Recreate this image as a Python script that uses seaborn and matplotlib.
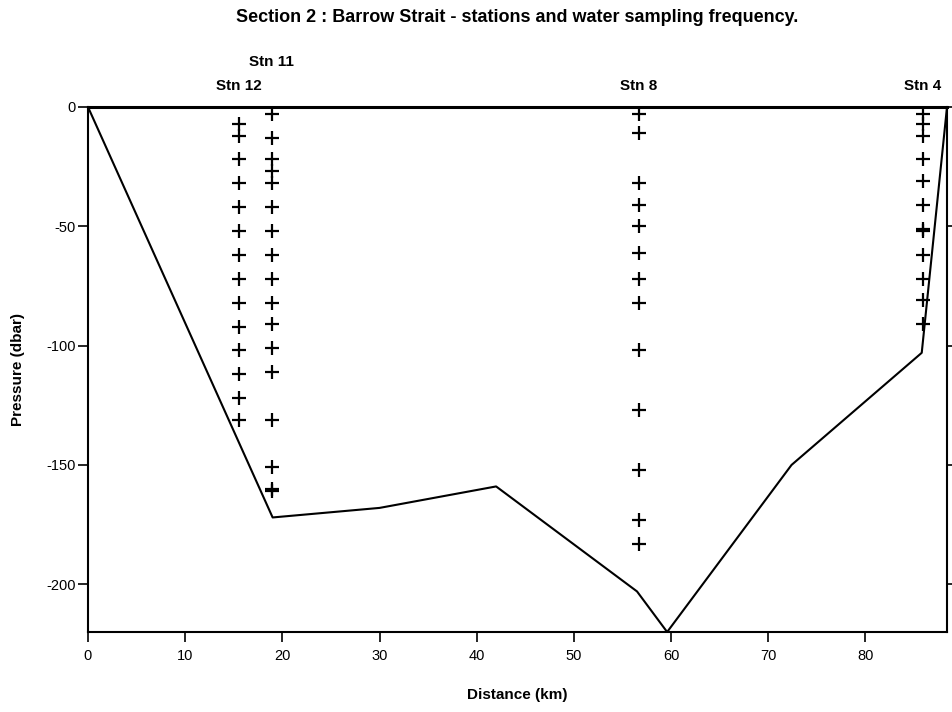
import matplotlib
matplotlib.use("Agg")
import matplotlib.pyplot as plt
import seaborn as sns
import pandas as pd

# Bottom profile
bottom_dist = [0.0, 19.0, 30.0, 42.0, 56.5, 59.6, 72.4, 85.8, 88.4]
bottom_pres = [0, -172, -168, -159, -203, -220, -150, -103, 0]

# Stations
station_names = ["Stn 12", "Stn 11", "Stn 8", "Stn 4"]
station_dist = [15.5, 18.9, 56.7, 85.9]
stn12_pres = [-7, -12, -22, -32, -42, -52, -62, -72, -82, -92, -102, -112, -122, -131]
stn11_pres = [-3, -13, -22, -27, -32, -42, -52, -62, -72, -82, -91, -101, -111, -131, -151, -160, -161]
stn8_pres = [-3, -11, -32, -41, -50, -61, -72, -82, -102, -127, -152, -173, -183]
stn4_pres = [-3, -7, -12, -22, -31, -41, -51, -52, -62, -72, -81, -91]

x_ticks = [0, 10, 20, 30, 40, 50, 60, 70, 80]
y_ticks = [0, -50, -100, -150, -200]

sns.set_theme(style="white")
plt.rcParams['font.family'] = ['Liberation Sans', 'DejaVu Sans']
plt.rcParams['text.color'] = 'black'
plt.rcParams['axes.labelcolor'] = 'black'

fig = plt.figure(figsize=(9.52, 7.12), dpi=100)
ax = fig.add_axes([88/952, 1-632/712, (947-88)/952, (632-107)/712])

prof = pd.DataFrame({"dist": bottom_dist, "pres": bottom_pres})
sns.lineplot(data=prof, x="dist", y="pres", sort=False, color="black", linewidth=1.5, ax=ax)

rows = []
for name, d, ps in zip(station_names, station_dist,
                       [stn12_pres, stn11_pres, stn8_pres, stn4_pres]):
    for p in ps:
        rows.append({"stn": name, "dist": d, "pres": p})
samp = pd.DataFrame(rows)
sns.scatterplot(data=samp, x="dist", y="pres", marker="+", s=110, color="black",
                linewidth=1.6, ax=ax, legend=False)

ax.set_xlim(0, 88.4)
ax.set_ylim(-220, 0)
ax.set_xticks(x_ticks)
ax.set_yticks(y_ticks)
ax.set_xticklabels([str(t) for t in x_ticks], fontsize=10.5)
ax.set_yticklabels([str(t) for t in y_ticks], fontsize=10.5)
ax.tick_params(axis="both", which="both", direction="out", length=7.5, width=1.2,
               colors="black", labelcolor="black", left=True, bottom=True, right=True)
ax.tick_params(axis="x", pad=5)
ax.tick_params(axis="y", pad=1.5, labelright=False)

for side in ["left", "right", "bottom"]:
    ax.spines[side].set_linewidth(1.5)
    ax.spines[side].set_color("black")
ax.spines["top"].set_linewidth(2.2)
ax.spines["top"].set_color("black")

ax.set_xlabel("Distance (km)", fontsize=11, color="black")
ax.xaxis.label.set_fontweight("bold")
ax.xaxis.set_label_coords(0.5, -(695-632)/525, transform=ax.transAxes)
ax.set_ylabel("Pressure (dbar)", fontsize=11, fontweight="bold", color="black")
ax.yaxis.set_label_coords(-(88-18)/859, 0.5)
ax.xaxis.label.set_va("center")
ax.yaxis.label.set_va("center")

# Station labels above top axis
label_offsets = [21, 45, 21, 21]
for name, d, off in zip(station_names, station_dist, label_offsets):
    ax.annotate(name, xy=(d, 0), xycoords="data", xytext=(0, off), textcoords="offset pixels",
                ha="center", va="center", fontsize=11, fontweight="bold", color="black",
                annotation_clip=False)

fig.text((88+947)/2/952, 1-18/712, "Section 2 : Barrow Strait - stations and water sampling frequency.",
         ha="center", va="center", fontsize=13, fontweight="bold", color="black")

fig.savefig("out.png", dpi=100, facecolor="white")
